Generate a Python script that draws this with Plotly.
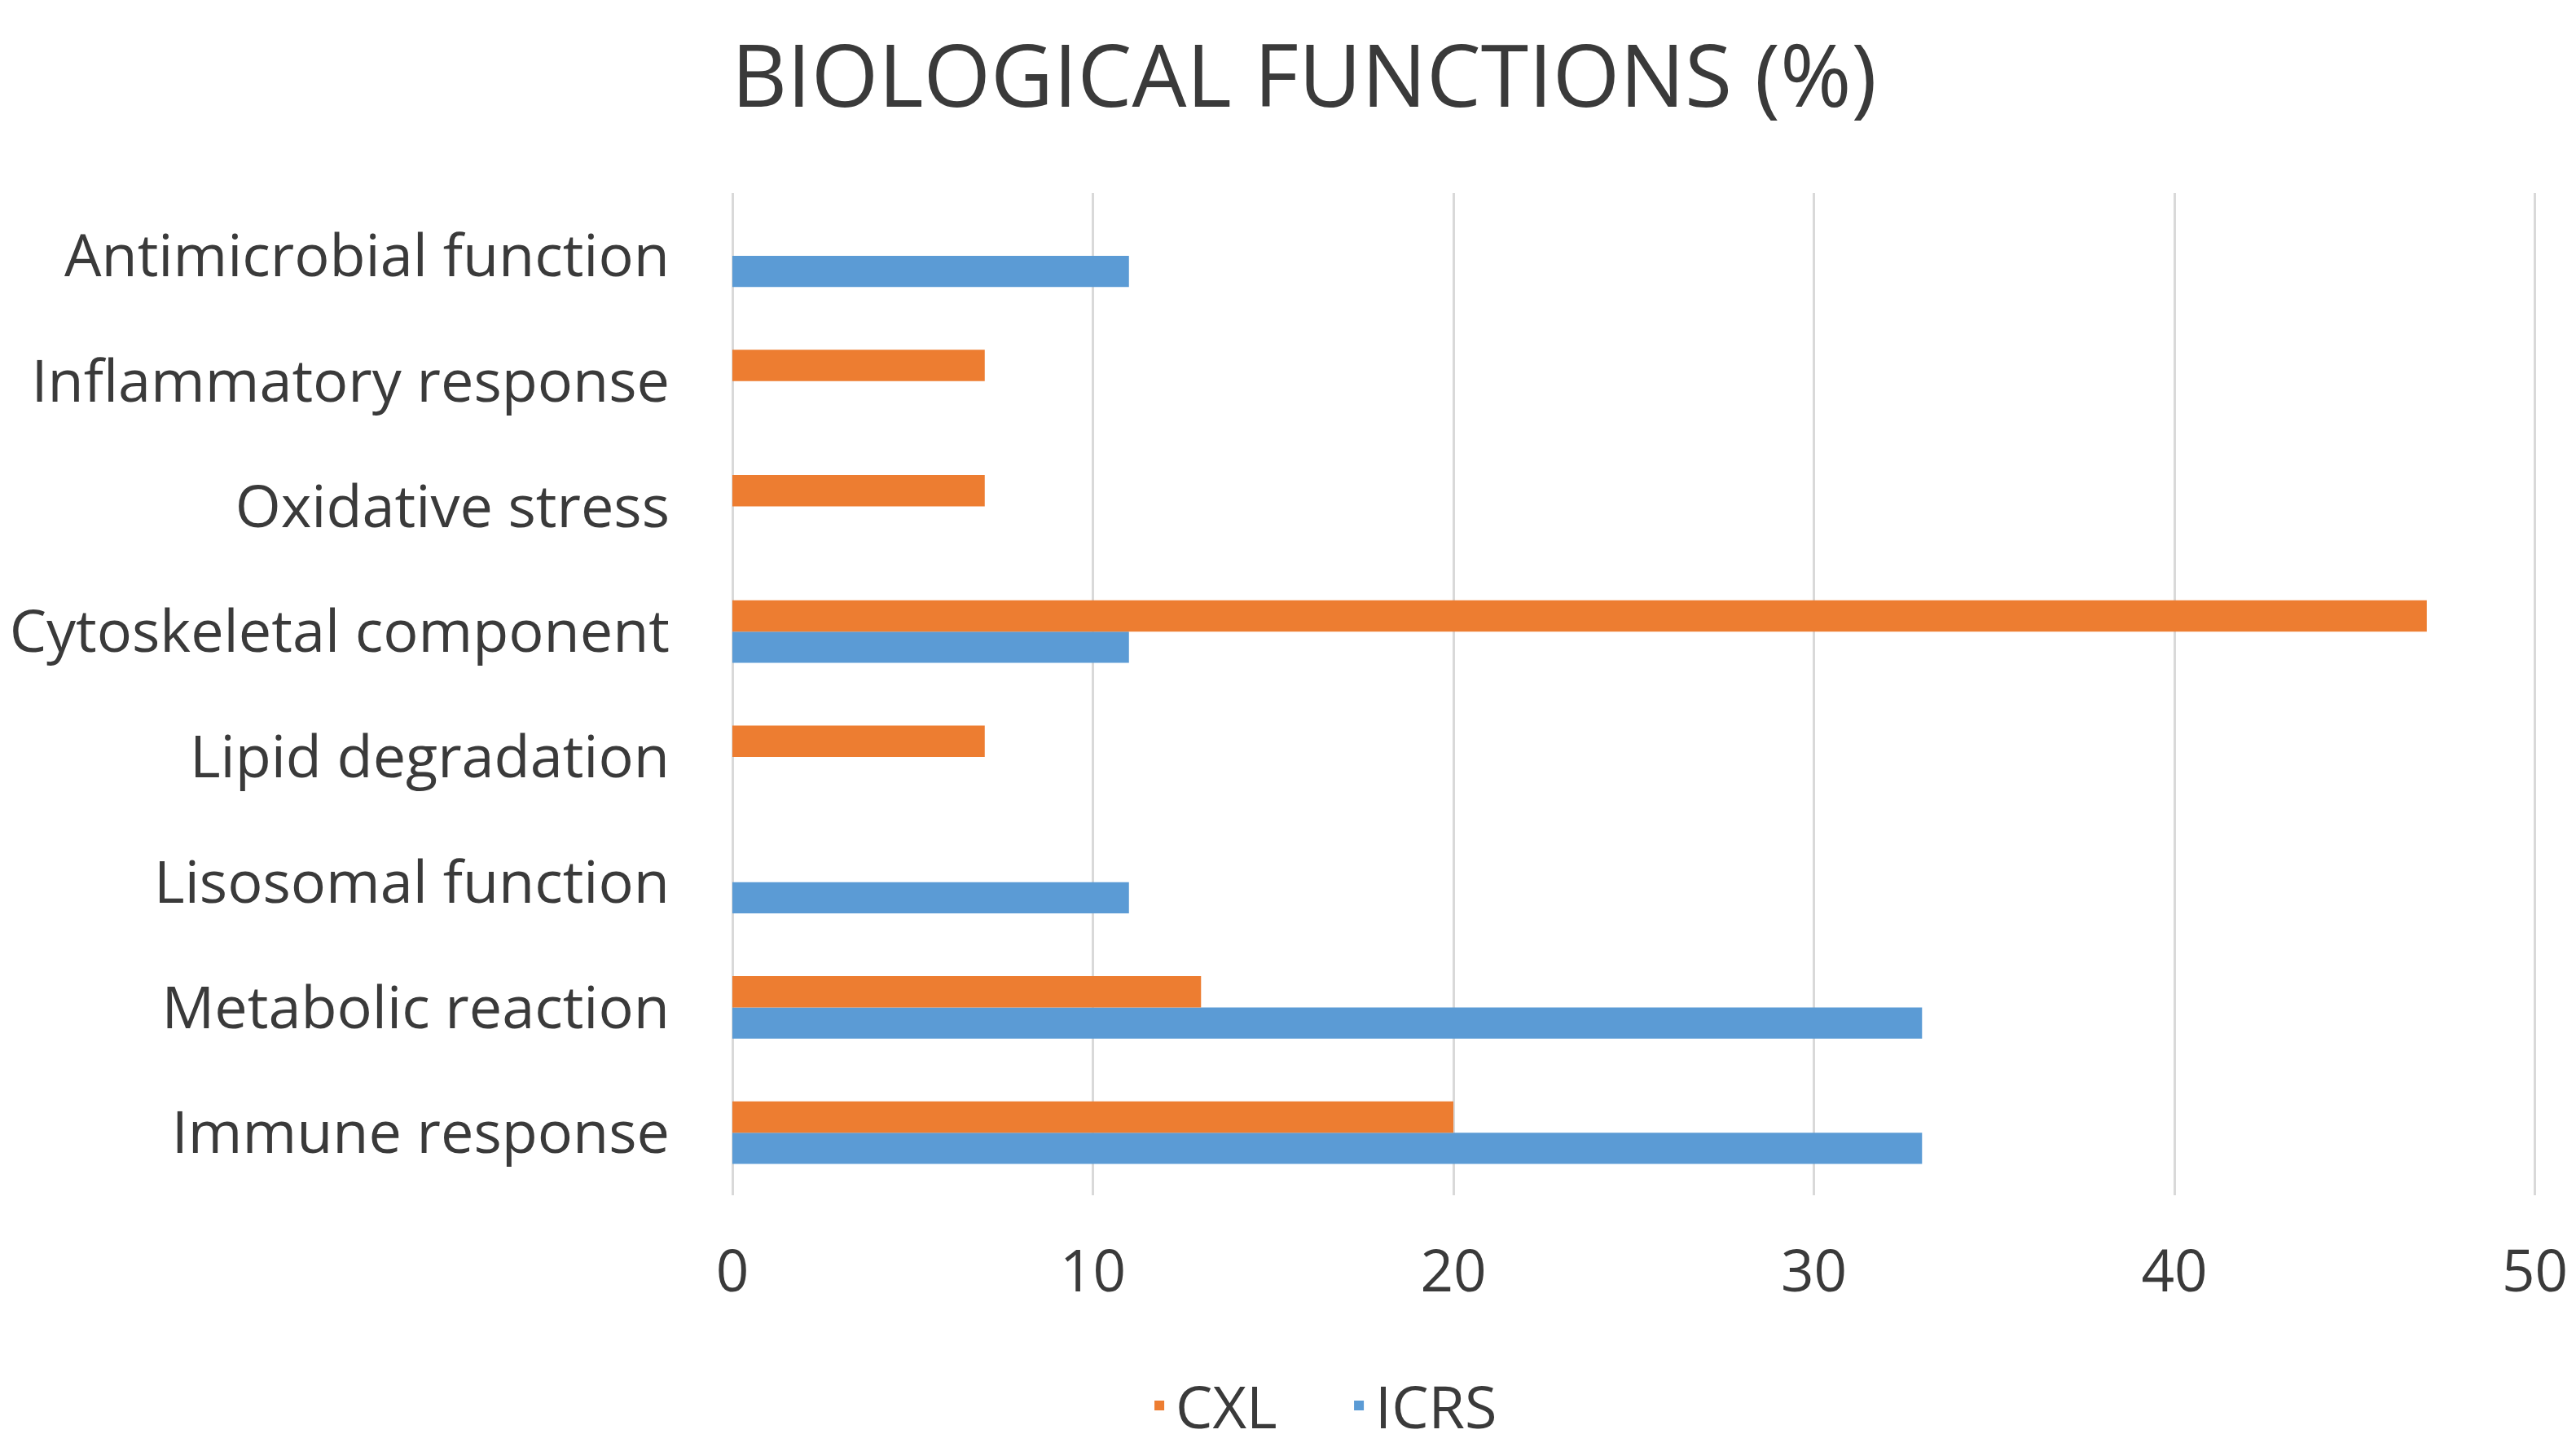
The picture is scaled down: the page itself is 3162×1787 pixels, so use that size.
import plotly.graph_objects as go

categories = ["Immune response", "Metabolic reaction", "Lisosomal function",
              "Lipid degradation", "Cytoskeletal component", "Oxidative stress",
              "Inflammatory response", "Antimicrobial function"]
cxl = [20, 13, None, 7, 47, 7, 7, None]
icrs = [33, 33, 11, None, 11, None, None, 11]
x_ticks = [0, 10, 20, 30, 40, 50]

FONT = "Open Sans, sans-serif"
TXT = "#3a3a3a"

W, H = 3154, 1779  # page body adds an 8px offset

fig = go.Figure()
fig.add_trace(go.Bar(y=categories, x=icrs, name="ICRS", orientation="h",
                     marker=dict(color="#5B9BD5", line=dict(width=0))))
fig.add_trace(go.Bar(y=categories, x=cxl, name="CXL", orientation="h",
                     marker=dict(color="#ED7D31", line=dict(width=0))))

fig.update_layout(
    width=W, height=H,
    margin=dict(l=891, r=46, t=229, b=320, autoexpand=False),
    paper_bgcolor="white", plot_bgcolor="white",
    barmode="group", bargap=0.5, bargroupgap=0,
    font=dict(family=FONT, color=TXT, size=72),
    title=dict(text="BIOLOGICAL FUNCTIONS (%)", x=0.505, xanchor="center",
               y=1 - 86 / H, yanchor="middle", yref="container",
               font=dict(family=FONT, size=106, color=TXT)),
    showlegend=True,
    legend=dict(orientation="h", xref="container", x=0.520, xanchor="center",
                y=-0.21, yanchor="middle", traceorder="reversed",
                entrywidth=200,
                font=dict(family=FONT, size=72, color=TXT)),
    xaxis=dict(range=[0, 50.1], tickvals=x_ticks, showgrid=True,
               gridcolor="#d9d9d9", gridwidth=3, zeroline=True,
               zerolinecolor="#d9d9d9", zerolinewidth=3, showline=False,
               ticks="", ticklabelstandoff=46, automargin=False,
               ticklabeloverflow="allow",
               tickfont=dict(family=FONT, size=71, color=TXT)),
    yaxis=dict(categoryorder="array", categoryarray=categories, showgrid=False,
               zeroline=False, showline=False, ticks="", ticklabelstandoff=76,
               automargin=False,
               tickfont=dict(family=FONT, size=72, color=TXT)),
)

fig.write_html("out.html")
